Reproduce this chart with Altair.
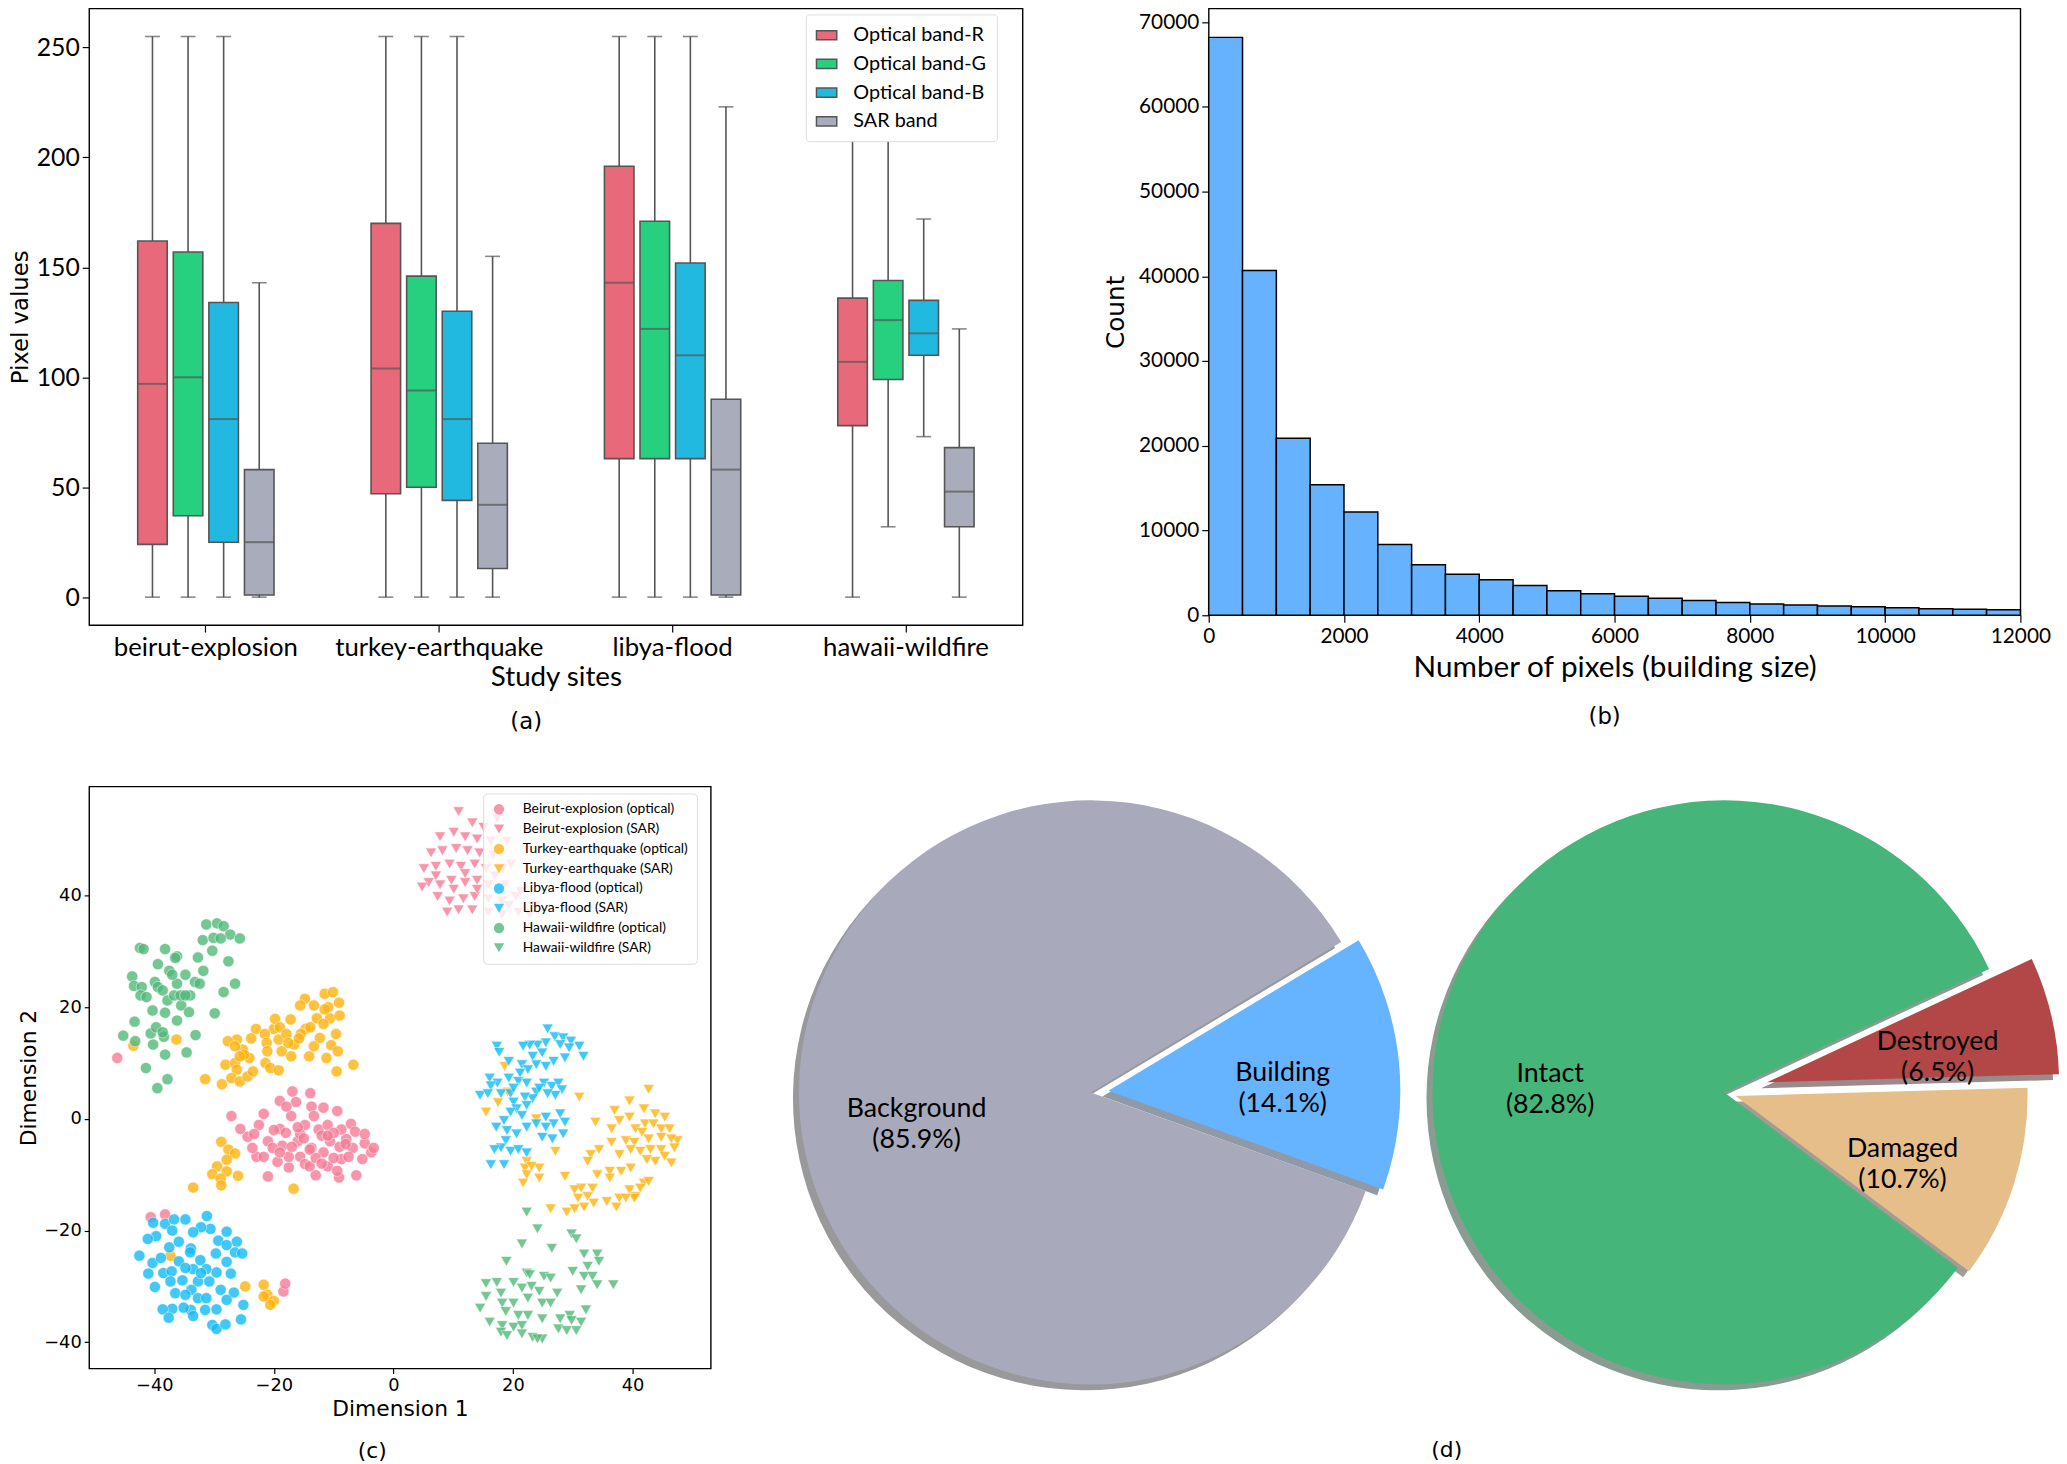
import math
import altair as alt
import pandas as pd

# ------------------------------------------------------------------ (a) box plot
sites = ["beirut-explosion", "turkey-earthquake", "libya-flood", "hawaii-wildfire"]
bands = ["Optical band-R", "Optical band-G", "Optical band-B", "SAR band"]
whisker_low = [[0, 0, 0, 0], [0, 0, 0, 0], [0, 0, 0, 0], [0, 32, 73, 0]]
box_q1 = [[24, 37, 25, 1], [47, 50, 44, 13], [63, 63, 63, 1], [78, 99, 110, 32]]
box_median = [[97, 100, 81, 25], [104, 94, 81, 42], [143, 122, 110, 58], [107, 126, 120, 48]]
box_q3 = [[162, 157, 134, 58], [170, 146, 130, 70], [196, 171, 152, 90], [136, 144, 135, 68]]
whisker_high = [[255, 255, 255, 143], [255, 255, 255, 155], [255, 255, 255, 223], [223, 211, 172, 122]]
band_colors = ["#E8697A", "#27D07F", "#22B9E0", "#A9ACBA"]

# ------------------------------------------------------------------ (b) histogram
hist_start = [0, 500, 1000, 1500, 2000, 2500, 3000, 3500, 4000, 4500, 5000, 5500,
              6000, 6500, 7000, 7500, 8000, 8500, 9000, 9500, 10000, 10500, 11000, 11500]
hist_end = [500, 1000, 1500, 2000, 2500, 3000, 3500, 4000, 4500, 5000, 5500, 6000,
            6500, 7000, 7500, 8000, 8500, 9000, 9500, 10000, 10500, 11000, 11500, 12000]
hist_count = [68200, 40700, 20900, 15400, 12200, 8350, 5950, 4850, 4200, 3500, 2900, 2550,
              2250, 2000, 1750, 1500, 1330, 1220, 1100, 1000, 890, 780, 720, 660]

# ------------------------------------------------------------------ (c) t-SNE scatter
groups = ["Beirut-explosion (optical)", "Beirut-explosion (SAR)",
          "Turkey-earthquake (optical)", "Turkey-earthquake (SAR)",
          "Libya-flood (optical)", "Libya-flood (SAR)",
          "Hawaii-wildfire (optical)", "Hawaii-wildfire (SAR)"]
group_colors = ["#F77B95", "#F77B95", "#FFB30F", "#FFB30F",
                "#14BBF5", "#14BBF5", "#52B879", "#52B879"]
group_shapes = ["circle", "triangle-down"] * 4

beirut_optical = [
    (-16.9, 4.9), (-13.9, 4.6), (-19.0, 3.2), (-16.3, 3.0), (-13.7, 2.2), (-11.7, 2.0), (-9.4, 1.4),
    (-7.1, -0.9), (-4.8, -4.4), (-3.7, -6.0), (-6.2, -10.1), (-9.1, -10.5), (-13.0, -10.1),
    (-17.5, -8.7), (-21.0, -10.3), (-22.9, -6.8), (-24.4, -3.2), (-27.1, 0.5), (-25.6, -1.8),
    (-22.5, -1.1), (-21.7, 0.9), (-21.0, -4.0), (-18.6, -4.8), (-16.0, -4.0), (-15.6, -6.8),
    (-13.7, -5.2), (-11.7, -6.0), (-10.6, -4.0), (-12.5, -1.9), (-14.8, -1.1), (-17.1, 0.5),
    (-19.0, -1.8), (-20.2, -5.2), (-17.5, -6.8), (-7.9, -3.6), (-8.7, -7.2), (-6.8, -5.2),
    (-5.2, -7.2), (-7.5, -6.8), (-11.0, -8.5), (-14.8, -8.1), (-19.4, -7.7), (-21.7, -6.8),
    (-23.6, -5.2), (-23.3, -2.7), (-15.6, -2.7), (-13.3, 0.5), (-11.0, -1.1), (-8.7, -1.9),
    (-6.4, -2.3), (-17.9, 2.2), (-9.4, -9.3), (-4.8, -2.7), (-3.3, -5.2), (-14.0, -8.5),
    (-12.0, -3.0), (-10.0, -2.5), (-15.0, -3.5), (-18.0, -2.5), (-20.0, -2.0), (-9.0, -5.0),
    (-13.0, -7.0), (-11.0, -3.0), (-16.0, -1.5), (-8.0, -4.5), (-14.0, -5.5), (-12.0, -8.0),
    (-19.0, -6.0), (-10.0, -7.0), (-17.0, -5.0),
    (-46.2, 10.9), (-40.6, -17.6), (-38.2, -17.1), (-18.4, -30.9), (-18.1, -29.5)]

beirut_sar = [
    (10.9, 55.0), (13.2, 53.0), (15.1, 52.2), (7.8, 50.5), (10.1, 51.3), (12.0, 50.5), (14.0, 50.1),
    (16.3, 49.7), (6.3, 47.6), (8.2, 48.0), (10.5, 48.4), (12.4, 48.0), (14.4, 47.6), (16.7, 47.2),
    (5.1, 44.8), (7.1, 45.2), (9.4, 45.6), (11.3, 45.2), (13.6, 45.6), (15.5, 44.8), (18.2, 44.8),
    (5.9, 42.3), (7.8, 41.9), (9.7, 42.7), (12.0, 42.3), (14.0, 42.7), (15.9, 41.9), (18.6, 41.9),
    (7.4, 39.8), (9.4, 39.0), (11.7, 39.4), (13.6, 39.8), (15.9, 39.4), (18.2, 39.0), (20.5, 39.8),
    (9.0, 37.0), (10.9, 37.4), (13.2, 37.4), (15.9, 37.0), (18.2, 36.6), (20.9, 37.0), (22.8, 36.6),
    (4.8, 41.5), (7.1, 43.5), (17.0, 43.5), (12.0, 43.9), (10.1, 41.1), (14.0, 41.1), (19.3, 38.2),
    (17.4, 53.8), (19.0, 49.7), (19.7, 45.6), (21.3, 40.7), (23.9, 38.2)]

turkey_optical = [
    (-14.8, 21.5), (-13.3, 20.3), (-11.5, 22.4), (-10.1, 22.7), (-9.1, 20.8), (-10.9, 20.0),
    (-10.6, 18.0), (-9.0, 18.5), (-12.8, 18.0), (-11.7, 17.0), (-9.6, 15.2), (-10.4, 13.2),
    (-9.3, 12.1), (-11.2, 10.9), (-13.3, 13.0), (-14.1, 11.2), (-14.7, 16.1), (-15.5, 15.2),
    (-16.6, 13.3), (-17.1, 11.2), (-18.7, 12.1), (-19.2, 14.2), (-20.0, 16.1), (-19.8, 17.9),
    (-17.2, 17.8), (-19.0, 16.4), (-17.9, 15.2), (-23.0, 16.1), (-21.5, 15.2), (-23.8, 14.4),
    (-21.2, 13.6), (-21.1, 12.1), (-21.4, 10.0), (-20.6, 9.1), (-19.2, 8.7), (-24.1, 10.9),
    (-25.2, 12.4), (-25.0, 11.5), (-26.2, 14.2), (-27.7, 13.9), (-26.5, 13.0), (-28.1, 9.7),
    (-26.5, 10.0), (-25.7, 11.2), (-26.2, 8.8), (-27.1, 7.3), (-25.7, 6.7), (-24.4, 7.6),
    (-23.5, 8.5), (-28.7, 6.2), (-31.5, 7.1), (-15.6, 20.3), (-13.9, 16.4), (-12.3, 14.5),
    (-11.5, 19.6), (-6.7, 9.7), (-9.5, 8.5), (-15.8, 14.4), (-17.6, 13.6),
    (-28.8, -4.1), (-27.6, -5.5), (-26.5, -6.2), (-27.9, -7.3), (-29.5, -8.5), (-27.9, -9.4),
    (-30.3, -9.9), (-28.9, -10.7), (-28.8, -11.9), (-26.0, -10.2), (-33.5, -12.3), (-16.7, -12.5),
    (-24.8, -30.0), (-21.7, -29.7), (-21.1, -31.5), (-20.0, -32.6), (-21.7, -31.8), (-20.6, -33.3),
    (-37.3, -24.5), (-43.5, 13.1), (-36.3, 14.2)]

turkey_sar = [
    (18.6, 9.4), (19.1, 4.8), (17.5, 2.9), (15.5, 1.2), (23.9, 0.0), (27.1, -5.8), (22.3, -7.6),
    (31.1, 3.9), (42.7, 5.3), (39.5, 3.2), (37.0, 1.5), (41.9, 1.8), (43.8, 0.9), (45.4, 0.3),
    (36.5, -1.8), (37.8, -0.3), (39.5, 0.3), (40.5, -1.8), (42.1, -0.9), (43.5, -0.9), (44.8, -1.8),
    (46.2, -1.8), (47.5, -3.9), (36.5, -4.2), (38.9, -3.9), (40.3, -4.2), (41.6, -2.4), (42.7, -3.6),
    (44.8, -3.3), (46.5, -3.6), (37.8, -6.4), (39.7, -5.5), (41.3, -5.8), (43.0, -5.5), (44.8, -5.5),
    (47.0, -5.2), (43.8, -7.6), (45.4, -6.7), (46.5, -7.9), (42.4, -7.3), (33.8, -0.6), (34.4, -5.5),
    (33.0, -6.4), (32.5, -7.6), (34.1, -10.0), (36.2, -9.4), (38.1, -9.4), (39.7, -8.8),
    (36.2, -10.6), (33.3, -12.4), (31.4, -12.4), (30.3, -12.7), (30.9, -14.2), (32.5, -13.9),
    (33.5, -15.1), (35.7, -14.8), (37.3, -15.8), (37.8, -14.2), (39.5, -12.7), (40.5, -13.9),
    (41.9, -11.5), (42.7, -11.2), (41.3, -12.4), (28.7, -10.3), (24.4, -8.8), (22.0, -8.8),
    (22.3, -10.0), (24.4, -10.6), (21.7, -11.5), (26.3, -16.1), (29.0, -16.7), (30.3, -16.1),
    (31.9, -15.8), (23.1, -8.5), (40.3, -14.2), (38.9, -14.2)]

libya_optical = [
    (-40.2, -18.6), (-38.2, -18.8), (-36.7, -18.0), (-34.8, -18.0), (-31.2, -17.4), (-30.6, -19.7),
    (-32.2, -19.4), (-33.5, -20.3), (-37.0, -20.0), (-39.7, -21.0), (-41.1, -21.5), (-42.5, -24.5),
    (-40.3, -25.8), (-41.0, -27.7), (-39.9, -30.1), (-38.5, -27.6), (-38.9, -24.9), (-37.5, -23.0),
    (-35.9, -22.0), (-33.9, -23.2), (-35.9, -25.5), (-37.1, -27.3), (-37.3, -29.1), (-36.5, -31.2),
    (-35.3, -28.9), (-33.5, -26.9), (-32.3, -25.3), (-29.7, -24.1), (-29.3, -21.8), (-27.9, -20.2),
    (-26.2, -22.0), (-27.9, -22.6), (-26.5, -23.9), (-25.3, -24.1), (-27.9, -25.6), (-27.2, -27.7),
    (-26.7, -31.1), (-27.9, -32.4), (-29.6, -27.5), (-30.8, -29.1), (-31.3, -26.9), (-32.7, -29.1),
    (-33.8, -30.6), (-34.8, -31.5), (-32.7, -32.1), (-31.3, -32.1), (-28.9, -30.6), (-29.6, -34.1),
    (-31.5, -34.2), (-33.9, -34.2), (-35.1, -33.8), (-37.0, -34.0), (-38.6, -34.1), (-37.6, -35.6),
    (-33.5, -35.3), (-30.3, -36.9), (-29.6, -37.6), (-28.1, -36.8), (-25.5, -35.9), (-25.1, -33.3),
    (-34.0, -23.9), (-32.2, -27.6), (-34.8, -26.7)]

libya_sar = [
    (25.8, 16.1), (27.0, 14.7), (28.4, 14.5), (29.7, 13.9), (31.1, 13.0), (31.8, 11.2), (29.4, 12.7),
    (27.9, 13.3), (25.5, 13.6), (24.1, 13.2), (22.8, 13.2), (21.7, 13.0), (17.3, 13.0), (17.7, 11.9),
    (19.3, 10.3), (21.5, 9.7), (22.5, 8.8), (23.9, 9.7), (25.5, 9.4), (26.8, 10.3), (28.7, 10.9),
    (24.9, 11.8), (23.3, 11.2), (21.2, 8.2), (19.3, 7.3), (17.4, 6.4), (16.1, 7.3), (16.3, 5.9),
    (14.5, 4.2), (15.8, 4.5), (18.0, 4.5), (19.6, 4.5), (20.9, 6.7), (22.3, 6.4), (23.9, 4.8),
    (25.2, 6.4), (26.5, 5.8), (27.6, 6.4), (28.2, 5.2), (27.1, 4.2), (25.8, 4.5), (23.3, 3.6),
    (22.0, 3.9), (20.1, 3.0), (20.6, 1.8), (22.3, 2.4), (21.5, 0.6), (19.6, 1.2), (18.5, -0.3),
    (17.2, -1.5), (19.0, -2.1), (20.6, -2.7), (22.3, -1.5), (23.9, -0.9), (25.5, 0.3), (26.8, -0.9),
    (27.9, 0.9), (28.7, -0.6), (28.4, -2.7), (26.6, -3.6), (24.9, -3.3), (25.5, -1.5), (18.8, -3.9),
    (18.0, -5.2), (16.9, -5.5), (19.6, -5.8), (20.9, -5.5), (16.3, -8.2), (18.5, -8.2), (22.3, -6.1),
    (24.4, 5.5), (20.1, 5.5)]

hawaii_optical = [
    (-31.3, 34.8), (-29.5, 35.0), (-28.4, 34.5), (-27.3, 33.0), (-25.7, 32.3), (-31.9, 32.0),
    (-30.1, 32.4), (-28.9, 32.3), (-30.3, 30.1), (-27.6, 28.2), (-26.5, 24.2), (-28.4, 22.7),
    (-29.9, 18.9), (-33.1, 15.0), (-34.6, 11.9), (-37.8, 7.1), (-39.5, 5.5), (-41.4, 9.1),
    (-38.2, 11.5), (-43.2, 13.9), (-45.2, 14.9), (-43.3, 17.4), (-40.6, 15.3), (-40.2, 13.3),
    (-38.4, 14.7), (-36.2, 17.6), (-38.2, 19.0), (-40.3, 19.4), (-35.5, 20.3), (-34.2, 19.1),
    (-34.0, 22.1), (-33.2, 24.5), (-32.4, 24.2), (-31.8, 26.5), (-32.7, 28.9), (-34.8, 25.8),
    (-36.2, 29.1), (-36.5, 28.8), (-38.2, 30.4), (-42.4, 30.6), (-41.8, 30.4), (-39.4, 27.7),
    (-37.5, 26.5), (-43.7, 25.5), (-43.4, 23.8), (-42.1, 23.6), (-42.3, 22.1), (-41.3, 21.8),
    (-39.9, 24.5), (-39.4, 23.6), (-38.6, 23.0), (-37.8, 21.2), (-36.7, 22.1), (-36.2, 24.2),
    (-37.0, 25.8), (-35.6, 22.1), (-34.8, 22.1), (-39.7, 16.4), (-38.6, 15.5)]

hawaii_sar = [
    (22.3, -16.7), (24.1, -19.7), (21.5, -22.4), (26.5, -23.2), (18.9, -25.5), (29.8, -20.6),
    (30.6, -21.5), (31.9, -24.2), (34.1, -24.2), (34.4, -25.5), (32.5, -26.4), (30.0, -27.3),
    (31.9, -28.2), (33.3, -28.2), (34.1, -29.7), (36.8, -29.7), (31.4, -30.6), (32.2, -34.2),
    (15.5, -29.5), (17.3, -29.3), (20.1, -29.3), (22.3, -27.6), (22.8, -27.9), (25.2, -28.2),
    (26.3, -28.5), (23.1, -30.0), (21.5, -30.3), (24.4, -30.9), (27.4, -31.2), (18.0, -31.2),
    (15.5, -31.8), (14.5, -33.9), (18.2, -33.0), (20.1, -33.0), (22.5, -32.1), (24.9, -33.0),
    (26.3, -33.0), (18.8, -34.5), (20.9, -35.2), (22.5, -35.2), (24.9, -35.8), (27.9, -35.8),
    (29.5, -35.2), (31.4, -36.4), (16.1, -36.4), (18.2, -37.0), (20.1, -37.3), (21.5, -37.0),
    (18.0, -38.2), (19.0, -38.8), (21.5, -38.5), (23.3, -39.1), (24.9, -39.4), (27.6, -37.6),
    (29.0, -37.9), (30.6, -37.9), (29.8, -36.1), (24.1, -39.4)]

group_points = [beirut_optical, beirut_sar, turkey_optical, turkey_sar,
                libya_optical, libya_sar, hawaii_optical, hawaii_sar]

# ------------------------------------------------------------------ (d) pies
pie_ids = ["area", "damage"]
area_names = ["Background", "Building"]
area_values = [85.9, 14.1]
damage_names = ["Intact", "Damaged", "Destroyed"]
damage_values = [82.8, 10.7, 6.5]

# style for pies
area_colors = ["#A8A9BA", "#66B3FF"]
damage_colors = ["#46B57A", "#E6BE8A", "#B34747"]
area_explode = [0.0, 0.06]
damage_explode = [0.0, 0.04, 0.15]
start_angles = {"area": 31, "damage": 25}
R = 295

FONT_A = "Lato"
FONT_B = "DejaVu Sans"

# ================================================================== panel (a)
box_rows = []
for i, s in enumerate(sites):
    for j, b in enumerate(bands):
        box_rows.append(dict(site=s, band=b, lo=whisker_low[i][j], q1=box_q1[i][j],
                             med=box_median[i][j], q3=box_q3[i][j], hi=whisker_high[i][j]))
box_df = pd.DataFrame(box_rows)

x_a = alt.X("site:N", scale=alt.Scale(domain=sites, paddingInner=0.39, paddingOuter=0.195),
            axis=alt.Axis(title="Study sites", labelAngle=0, labelFont=FONT_A, labelFontSize=26,
                          titleFont=FONT_A, titleFontSize=28, titleFontWeight="normal",
                          tickSize=7, labelPadding=3, titlePadding=3, labelLimit=0))
xo_a = alt.XOffset("band:N", scale=alt.Scale(domain=bands, paddingInner=0.17, paddingOuter=0.085))
y_scale_a = alt.Scale(domain=[-12.75, 267.75], nice=False, zero=False)
y_axis_a = alt.Axis(title="Pixel values", values=[0, 50, 100, 150, 200, 250], labelFont=FONT_A,
                    labelFontSize=25, titleFont=FONT_B, titleFontSize=23, titleFontWeight="normal",
                    tickSize=7, labelPadding=3, titlePadding=4)

base_a = alt.Chart(box_df).encode(x=x_a, xOffset=xo_a)
EDGE = "#555555"
whisk = base_a.mark_rule(color=EDGE, strokeWidth=1.6).encode(
    y=alt.Y("lo:Q", scale=y_scale_a, axis=y_axis_a), y2="hi:Q")
cap_lo = base_a.mark_tick(color=EDGE, size=15, thickness=1.6).encode(y="lo:Q")
cap_hi = base_a.mark_tick(color=EDGE, size=15, thickness=1.6).encode(y="hi:Q")
boxes = base_a.mark_bar(stroke=EDGE, strokeWidth=1.6).encode(
    y="q1:Q", y2="q3:Q",
    color=alt.Color("band:N", scale=alt.Scale(domain=bands, range=band_colors),
                    legend=alt.Legend(title=None, orient="none", legendX=724, legendY=6,
                                      symbolType="M-1,-0.45L1,-0.45L1,0.45L-1,0.45Z",
                                      symbolSize=420, symbolStrokeColor=EDGE, symbolStrokeWidth=1.5,
                                      symbolOpacity=1, labelFont=FONT_A, labelFontSize=20,
                                      labelOffset=16, rowPadding=8, padding=10,
                                      fillColor="white", strokeColor="#dddddd", cornerRadius=3)))
meds = base_a.mark_tick(color=EDGE, size=30, thickness=2).encode(y="med:Q")

panel_a = alt.layer(whisk, cap_lo, cap_hi, boxes, meds).properties(
    width=943, height=623,
    title=alt.TitleParams("(a)", orient="bottom", font=FONT_B, fontSize=23, fontWeight="normal",
                          offset=20, dx=-30))

# ================================================================== panel (b)
hist_df = pd.DataFrame({"start": hist_start, "end": hist_end, "count": hist_count})
panel_b = alt.Chart(hist_df).mark_rect(fill="#66B2FF", stroke="black", strokeWidth=1.5).encode(
    x=alt.X("start:Q", scale=alt.Scale(domain=[0, 12000], nice=False, zero=False),
            axis=alt.Axis(title="Number of pixels (building size)",
                          values=[0, 2000, 4000, 6000, 8000, 10000, 12000], format="d",
                          labelFont=FONT_A, labelFontSize=21, titleFont=FONT_A, titleFontSize=30,
                          titleFontWeight="normal", tickSize=7, labelPadding=4, titlePadding=6,
                          labelFlush=False, labelOverlap=False)),
    x2="end:Q",
    y=alt.Y("count:Q", scale=alt.Scale(domain=[0, 71610], nice=False),
            axis=alt.Axis(title="Count", values=[0, 10000, 20000, 30000, 40000, 50000, 60000, 70000],
                          format="d", labelFont=FONT_A, labelFontSize=21, titleFont=FONT_B,
                          titleFontSize=25, titleFontWeight="normal", tickSize=7, labelPadding=3,
                          titlePadding=10, labelFlush=False, labelOverlap=False)),
    y2=alt.datum(0),
).properties(width=820, height=613,
             title=alt.TitleParams("(b)", orient="bottom", font=FONT_B, fontSize=23,
                                   fontWeight="normal", offset=24, dx=-10))

# ================================================================== panel (c)
sc_rows = []
for g, pts in zip(groups, group_points):
    for (px, py) in pts:
        sc_rows.append(dict(group=g, x=px, y=py))
sc_df = pd.DataFrame(sc_rows)
sc_df["order"] = range(len(sc_df))

legend_c = alt.Legend(title=None, orient="none", legendX=398, legendY=7, labelFont=FONT_A,
                      labelFontSize=14, symbolSize=110, symbolOpacity=0.8, labelOffset=17,
                      rowPadding=6, padding=9, fillColor="rgba(255,255,255,0.8)",
                      strokeColor="#dddddd", cornerRadius=4, symbolStrokeWidth=0, labelLimit=0)
panel_c = alt.Chart(sc_df).mark_point(filled=True, size=130, opacity=0.8, stroke="white",
                                      strokeWidth=0.6).encode(
    x=alt.X("x:Q", scale=alt.Scale(domain=[-50.9, 53.1], nice=False, zero=False),
            axis=alt.Axis(title="Dimension 1", values=[-40, -20, 0, 20, 40], labelFont=FONT_B,
                          labelFontSize=18, titleFont=FONT_B, titleFontSize=22,
                          titleFontWeight="normal", tickSize=5, labelPadding=3, titlePadding=4,
                          labelFlush=False)),
    y=alt.Y("y:Q", scale=alt.Scale(domain=[-44.7, 59.5], nice=False, zero=False),
            axis=alt.Axis(title="Dimension 2", values=[-40, -20, 0, 20, 40], labelFont=FONT_B,
                          labelFontSize=18, titleFont=FONT_B, titleFontSize=22,
                          titleFontWeight="normal", tickSize=5, labelPadding=3, titlePadding=3,
                          labelFlush=False)),
    color=alt.Color("group:N", scale=alt.Scale(domain=groups, range=group_colors), legend=legend_c),
    shape=alt.Shape("group:N", scale=alt.Scale(domain=groups, range=group_shapes), legend=legend_c),
    order=alt.Order("order:Q"),
).properties(width=628, height=588,
             title=alt.TitleParams("(c)", orient="bottom", font=FONT_B, fontSize=22,
                                   fontWeight="normal", offset=22, dx=-28))

# ================================================================== panel (d)
def shadow_of(hex_color):
    h = hex_color.lstrip("#")
    rgb = [int(h[k:k + 2], 16) / 255 for k in (0, 2, 4)]
    out = [round(255 * (0.5 + 0.15 * c)) for c in rgb]
    return "#%02x%02x%02x" % tuple(out)

pie_rows = []
for pid, names, vals in (("area", area_names, area_values), ("damage", damage_names, damage_values)):
    for k, (n, v) in enumerate(zip(names, vals)):
        pie_rows.append(dict(pie=pid, name=n, value=v, order=k))
pie_df = pd.DataFrame(pie_rows)

pie_base = alt.Chart(pie_df).transform_stack(
    stack="value", groupby=["pie"], as_=["t0", "t1"], sort=[alt.SortField("order")]
).transform_calculate(
    tm="(datum.t0 + datum.t1) / 2",
    label="datum.name + '\\n(' + format(datum.value, '.1f') + '%)'",
)
x_pie = alt.X("pie:N", scale=alt.Scale(type="point", domain=pie_ids, range=[329, 969], padding=0),
              axis=None)

shadow_layers, wedge_layers, text_layers = [], [], []
for pid, names, vals, cols, expl in (("area", area_names, area_values, area_colors, area_explode),
                                     ("damage", damage_names, damage_values, damage_colors, damage_explode)):
    s = start_angles[pid]
    th0 = math.radians(90 - s)
    th_scale = alt.Scale(domain=[0, 100], range=[th0, th0 - 2 * math.pi])
    total = sum(vals)
    cum = 0.0
    for n, v, col, e in zip(names, vals, cols, expl):
        mid = math.radians(s + 360 * (cum + v / 2) / total)
        cum += v
        dx = e * R * math.cos(mid)
        dy = -e * R * math.sin(mid)
        flt = pie_base.transform_filter(alt.datum.name == n)
        shadow_layers.append(flt.mark_arc(radius=R, color=shadow_of(col), xOffset=dx - 6,
                                          yOffset=dy + 6).encode(
            theta=alt.Theta("t0:Q", scale=th_scale), theta2="t1:Q", x=x_pie))
        wedge_layers.append(flt.mark_arc(radius=R, color=col, xOffset=dx, yOffset=dy).encode(
            theta=alt.Theta("t0:Q", scale=th_scale), theta2="t1:Q", x=x_pie))
        text_layers.append(flt.mark_text(radius=0.6 * R, font=FONT_A, fontSize=27, color="black",
                                         lineBreak="\n", lineHeight=31, align="center",
                                         baseline="middle", xOffset=dx, yOffset=dy).encode(
            theta=alt.Theta("tm:Q", scale=th_scale), text="label:N", x=x_pie))

panel_d = alt.layer(*shadow_layers, *wedge_layers, *text_layers).resolve_scale(
    theta="independent").properties(
    width=1299, height=618, view=alt.ViewBackground(stroke=None),
    title=alt.TitleParams("(d)", orient="bottom", font=FONT_B, fontSize=22, fontWeight="normal",
                          offset=42, frame="group", dx=39))

# ================================================================== layout
row1 = alt.hconcat(panel_a, panel_b, spacing=80).resolve_scale(
    x="independent", y="independent", color="independent")
row2 = alt.hconcat(panel_c, panel_d, spacing=54).resolve_scale(
    x="independent", y="independent", color="independent", shape="independent")
chart = alt.vconcat(row1, row2, spacing=51).resolve_scale(
    x="independent", y="independent", color="independent", shape="independent"
).properties(padding={"left": 0, "top": -8, "right": 0, "bottom": 0}).configure_view(
    stroke="black", strokeWidth=1.4
).configure_axis(
    grid=False, domain=False, tickColor="black", labelColor="black", titleColor="black",
    tickWidth=1.2
).configure_title(color="black")

chart.save("out.html", embed_options={"renderer": "svg", "actions": False})
